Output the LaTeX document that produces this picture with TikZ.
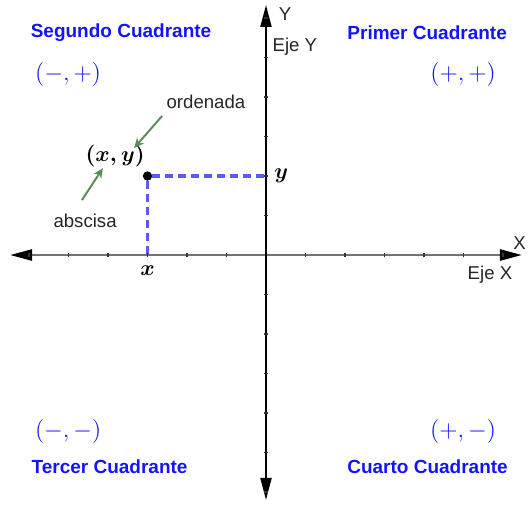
\documentclass[tikz,border=0pt]{standalone}
\usepackage{amsmath}
\usepackage{fontspec}
\newfontfamily\arial{Liberation Sans}
\usepackage{tikz}
\usetikzlibrary{positioning,arrows.meta}
\definecolor{quadblue}{RGB}{20,20,250}
\definecolor{dashblue}{RGB}{90,90,245}
\definecolor{arrgreen}{RGB}{90,140,90}

\begin{document}
\begin{tikzpicture}[x=19.75pt,y=19.75pt,
    axis/.style={line width=1pt,{Triangle[length=11pt,width=5.5pt,color=black]}-{Triangle[length=11pt,width=5.5pt,color=black]}},
    tick/.style={line width=0.6pt,black!80},
    quad/.style={font=\arial\bfseries\fontsize{9.5}{11}\selectfont,text=quadblue,inner sep=0pt},
    sgn/.style={font=\fontsize{12}{14}\selectfont,text=quadblue,inner sep=0pt},
    lab/.style={font=\arial\fontsize{9.3}{11}\selectfont,text=black!85,inner sep=0pt},
    mlab/.style={font=\boldmath\fontsize{10.95}{12}\selectfont,inner sep=0pt},
    garr/.style={-{Stealth[length=5pt,width=4.5pt]},line width=1pt,arrgreen},
    proj/.style={dashblue,line width=1.6pt,dash pattern=on 4pt off 2.5pt},
    dot/.style={circle,fill=black,inner sep=0pt,minimum size=4.5pt}
  ]
    \useasboundingbox (-6.734,-6.304) rectangle (6.633,6.456);

    % point and its projections
    \node[dot] (pt) at (-3,2) {};
    \coordinate (px) at (-3,0);
    \coordinate (py) at (0,2);
    \draw[proj] (pt) -- (py);
    \draw[proj] (pt) -- (px);

    % axes
    \coordinate (xl) at (-6.48,0);
    \coordinate (xr) at (6.48,0);
    \coordinate (yb) at (0,-6.2);
    \coordinate (yt) at (0,6.33);
    \draw[axis,black!55,line width=1.3pt] (xl) -- (xr);
    \draw[axis] (yb) -- (yt);
    \foreach \i in {-6,...,-1,1,2,...,6} {
      \draw[tick] (\i,-0.06) -- (\i,0.06);
      \draw[tick] (-0.06,\i) -- (0.06,\i);
    }
    \node[dot] at (pt) {};

    \node[lab] (ylab) at (0.48,6.10) {Y};
    \node[lab] (ejey) at (0.73,5.27) {Eje Y};
    \node[lab] (xlab) at (6.42,0.30) {X};
    \node[lab] (ejex) at (5.67,-0.51) {Eje X};

    \node[mlab,right=4pt of py] (ly) {$y$};
    \node[mlab,below=5pt of px] (lx) {$x$};

    % quadrants
    \node[quad] (q2) at (-3.67,5.62) {Segundo Cuadrante};
    \node[quad] (q1) at (4.08,5.62) {Primer Cuadrante};
    \node[quad] (q3) at (-3.96,-5.37) {Tercer Cuadrante};
    \node[quad] (q4) at (4.09,-5.37) {Cuarto Cuadrante};
    \node[sgn] (s2) at (-5.01,4.56) {$(-,+)$};
    \node[sgn] (s1) at (4.99,4.56) {$(+,+)$};
    \node[sgn] (s3) at (-5.01,-4.46) {$(-,-)$};
    \node[sgn] (s4) at (4.99,-4.46) {$(+,-)$};

    % coordinate names
    \node[mlab] (xy) at (-3.82,2.51) {$(x,y)$};
    \node[lab] (ord) at (-1.52,3.87) {ordenada};
    \node[lab] (abs) at (-4.58,0.86) {abscisa};
    \coordinate (ordtail) at (-2.63,3.52);
    \coordinate (ordtip) at (-3.34,2.71);
    \coordinate (abstail) at (-4.66,1.39);
    \coordinate (abstip) at (-4.13,2.20);
    \draw[garr] (ordtail) -- (ordtip);
    \draw[garr] (abstail) -- (abstip);
\end{tikzpicture}
\end{document}
